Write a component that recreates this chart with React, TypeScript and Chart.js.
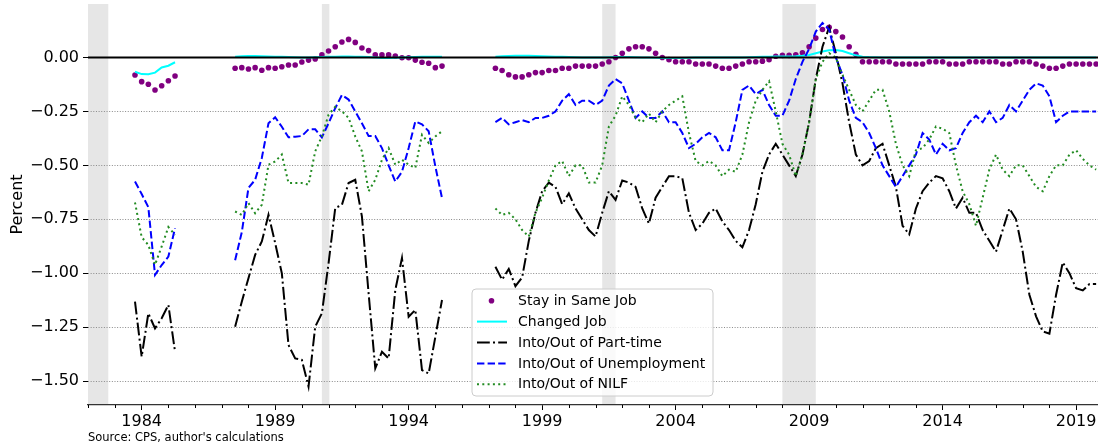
import React, { useEffect, useRef } from 'react';
import { Chart, registerables } from 'chart.js';

Chart.register(...registerables);

// ---- Data (quarterly, three blocks separated by gaps) ----
const blockStartQuarters = ['1983Q4', '1987Q3', '1997Q2'];

const stayBlock1 = [-0.081, -0.112, -0.124, -0.151, -0.131, -0.108, -0.086];
const stayBlock2 = [-0.050, -0.047, -0.053, -0.047, -0.059, -0.047, -0.050, -0.043, -0.035, -0.035, -0.021, -0.012, -0.007, 0.012, 0.030, 0.050, 0.072, 0.084, 0.070, 0.044, 0.032, 0.012, 0.012, 0.012, 0.007, -0.001, -0.001, -0.012, -0.022, -0.027, -0.047, -0.040];
const stayBlock3 = [-0.05, -0.06, -0.08, -0.09, -0.09, -0.08, -0.07, -0.07, -0.06, -0.06, -0.05, -0.05, -0.04, -0.04, -0.04, -0.04, -0.03, -0.02, 0.0, 0.02, 0.04, 0.05, 0.05, 0.04, 0.02, 0.0, -0.01, -0.02, -0.02, -0.02, -0.03, -0.03, -0.03, -0.04, -0.05, -0.05, -0.04, -0.03, -0.02, -0.02,
  -0.017, -0.01, 0.006, 0.01, 0.01, 0.013, 0.022, 0.05, 0.09, 0.13, 0.14, 0.12, 0.095, 0.05, 0.015, -0.02, -0.02, -0.02,
  -0.02, -0.02, -0.03, -0.03, -0.03, -0.03, -0.03, -0.02, -0.02, -0.02, -0.03, -0.03, -0.03, -0.02, -0.02, -0.02, -0.02, -0.02, -0.03, -0.03, -0.02, -0.02, -0.02, -0.03, -0.04, -0.05, -0.05, -0.04, -0.03, -0.03, -0.03, -0.03, -0.03];

const changedBlock1 = [-0.066, -0.077, -0.078, -0.070, -0.046, -0.038, -0.022];
const changedBlock2 = [0.004, 0.006, 0.007, 0.007, 0.006, 0.005, 0.004, 0.003, 0.002, 0.001, 0.0, 0.0, 0.001, 0.002, 0.003, 0.004, 0.005, 0.005, 0.004, 0.003, 0.002, 0.0, -0.002, -0.002, -0.001, 0.0, 0.001, 0.002, 0.003, 0.004, 0.004, 0.003];
const changedBlock3 = [0.004, 0.006, 0.007, 0.008, 0.008, 0.008, 0.007, 0.006, 0.005, 0.004, 0.003, 0.002, 0.001, 0.0, 0.0, 0.0, 0.0, 0.001, 0.002, 0.002, 0.002,
  0.001, 0.0, 0.0, -0.001, -0.002, -0.002, -0.002, -0.002, -0.001, 0.0,
  0.0, 0.0, 0.0, 0.0, 0.0, 0.0, 0.0, 0.001, 0.002, 0.003,
  0.004, 0.005, 0.005, 0.005, 0.006, 0.008, 0.012, 0.02, 0.028, 0.034,
  0.035, 0.03, 0.02, 0.01, 0.004, 0.002, 0.001, 0.0, 0.0, 0.0,
  0.0, 0.0, 0.0, 0.0, 0.0, 0.0, 0.0, 0.0, 0.0, 0.0,
  0.0, 0.0, 0.0, 0.0, 0.0, 0.0, 0.0, 0.0, 0.0, 0.0,
  0.0, 0.0, 0.0, 0.0, 0.0, 0.0, 0.0, 0.0, 0.0, 0.0];

const partBlock1 = [-1.132, -1.387, -1.186, -1.256, -1.209, -1.147, -1.364];
const partBlock2 = [-1.248, -1.132, -1.023, -0.915, -0.853, -0.729, -0.86, -1.0, -1.333, -1.395, -1.402, -1.526, -1.248, -1.186, -0.954, -0.698, -0.683, -0.582, -0.567, -0.737, -1.093, -1.441, -1.364, -1.395, -1.078, -0.93, -1.202, -1.17, -1.449, -1.465, -1.295, -1.124];
const partBlock3 = [-0.97, -1.03, -0.98, -1.06, -1.02, -0.85, -0.72, -0.62, -0.58, -0.6,
  -0.68, -0.63, -0.7, -0.75, -0.8, -0.83, -0.72, -0.62, -0.66, -0.57,
  -0.58, -0.6, -0.7, -0.77, -0.65, -0.6, -0.55, -0.55, -0.56, -0.72,
  -0.8, -0.77, -0.72, -0.7, -0.76, -0.8, -0.85, -0.88, -0.8, -0.68,
  -0.53, -0.45, -0.4, -0.45, -0.5, -0.55, -0.45, -0.3, -0.1, 0.05,
  0.14, 0.02, -0.12, -0.3, -0.45, -0.5, -0.48, -0.42, -0.4, -0.5,
  -0.6, -0.78, -0.82, -0.7, -0.62, -0.58, -0.55, -0.56, -0.62, -0.7,
  -0.65, -0.72, -0.72, -0.8, -0.85, -0.9, -0.8, -0.7, -0.75, -0.9,
  -1.1, -1.2, -1.27, -1.28, -1.1, -0.95, -1.0, -1.07, -1.08, -1.05,
  -1.05];

const unempBlock1 = [-0.575, -0.633, -0.694, -1.008, -0.962, -0.923, -0.791];
const unempBlock2 = [-0.94, -0.81, -0.605, -0.567, -0.466, -0.305, -0.277, -0.321, -0.37, -0.367, -0.364, -0.333, -0.333, -0.37, -0.305, -0.235, -0.174, -0.195, -0.25, -0.305, -0.364, -0.364, -0.42, -0.5, -0.575, -0.53, -0.42, -0.296, -0.31, -0.342, -0.505, -0.652];
const unempBlock3 = [-0.3, -0.28, -0.31, -0.3, -0.29, -0.3, -0.28, -0.28, -0.27, -0.25,
  -0.2, -0.17, -0.22, -0.2, -0.2, -0.22, -0.2, -0.13, -0.1, -0.12,
  -0.2, -0.28, -0.25, -0.28, -0.28, -0.25, -0.3, -0.3, -0.35, -0.42,
  -0.4, -0.37, -0.35, -0.37, -0.43, -0.43, -0.3, -0.15, -0.13, -0.17,
  -0.15, -0.22, -0.27, -0.27, -0.2, -0.1, -0.02, 0.04, 0.12, 0.16,
  0.13, 0.0, -0.08, -0.2, -0.28, -0.3, -0.35, -0.42, -0.5, -0.55,
  -0.6, -0.55, -0.5, -0.45, -0.35, -0.38, -0.45, -0.4, -0.43, -0.42,
  -0.35, -0.3, -0.27, -0.3, -0.25, -0.3, -0.28, -0.22, -0.25, -0.2,
  -0.15, -0.12, -0.13, -0.18, -0.3, -0.27, -0.25, -0.25, -0.25, -0.25,
  -0.25];

const nilfBlock1 = [-0.672, -0.833, -0.869, -0.961, -0.876, -0.786, -0.822];
const nilfBlock2 = [-0.714, -0.73, -0.675, -0.722, -0.683, -0.497, -0.482, -0.45, -0.582, -0.582, -0.582, -0.59, -0.435, -0.366, -0.265, -0.229, -0.249, -0.28, -0.366, -0.435, -0.62, -0.567, -0.474, -0.42, -0.497, -0.474, -0.497, -0.512, -0.358, -0.396, -0.366, -0.342];
const nilfBlock3 = [-0.7, -0.73, -0.72, -0.75, -0.8, -0.83, -0.72, -0.65, -0.57, -0.5,
  -0.48, -0.55, -0.5, -0.5, -0.58, -0.58, -0.5, -0.32, -0.27, -0.18,
  -0.22, -0.28, -0.3, -0.26, -0.3, -0.25, -0.22, -0.2, -0.18, -0.35,
  -0.48, -0.5, -0.48, -0.5, -0.55, -0.52, -0.53, -0.45, -0.3, -0.2,
  -0.15, -0.11, -0.25, -0.4, -0.45, -0.55, -0.45, -0.3, -0.1, -0.02,
  0.02, 0.0, -0.08, -0.15, -0.22, -0.25, -0.2, -0.15, -0.15, -0.25,
  -0.4, -0.5, -0.55, -0.43, -0.42, -0.38, -0.32, -0.33, -0.35, -0.5,
  -0.62, -0.68, -0.78, -0.65, -0.52, -0.45, -0.52, -0.55, -0.5, -0.5,
  -0.55, -0.6, -0.62, -0.55, -0.5, -0.5, -0.45, -0.43, -0.47, -0.5,
  -0.52];

// recessions (start, end) in years
const recessionStarts = [1981.5, 1990.75, 2001.25, 2008.0];
const recessionEnds = [1982.75, 1991.03, 2001.75, 2009.25];

const xTickYears = [1984, 1989, 1994, 1999, 2004, 2009, 2014, 2019];
const xTickLabels = ['1984', '1989', '1994', '1999', '2004', '2009', '2014', '2019'];
const yTickValues = [-1.5, -1.25, -1.0, -0.75, -0.5, -0.25, 0.0];

const seriesNames = ['Stay in Same Job', 'Changed Job', 'Into/Out of Part-time', 'Into/Out of Unemployment', 'Into/Out of NILF'];
const seriesColors = ['#800080', '#00ffff', '#000000', '#0000ff', '#228b22'];
const seriesDashes: number[][] = [[], [], [12.8, 3.2, 2, 3.2], [7.4, 3.2], [2, 3.3]];

const FONT = "'DejaVu Sans', sans-serif";

function quarterToYear(q: string): number {
  const [y, qq] = q.split('Q');
  return Number(y) + (Number(qq) - 1) / 4;
}

function buildPoints(blocks: number[][]) {
  const pts: { x: number; y: number | null }[] = [];
  blocks.forEach((vals, b) => {
    const start = quarterToYear(blockStartQuarters[b]);
    vals.forEach((v, i) => pts.push({ x: start + i / 4, y: v }));
    if (b < blocks.length - 1) {
      pts.push({ x: start + vals.length / 4, y: null });
    }
  });
  return pts;
}

const fmt = (v: number) => {
  const s = Math.abs(v).toFixed(2);
  return v < -1e-9 ? '\u2212' + s : s;
};

export default function App() {
  const ref = useRef<HTMLCanvasElement | null>(null);

  useEffect(() => {
    if (!ref.current) return;
    const stay = buildPoints([stayBlock1, stayBlock2, stayBlock3]);
    const changed = buildPoints([changedBlock1, changedBlock2, changedBlock3]);
    const part = buildPoints([partBlock1, partBlock2, partBlock3]);
    const unemp = buildPoints([unempBlock1, unempBlock2, unempBlock3]);
    const nilf = buildPoints([nilfBlock1, nilfBlock2, nilfBlock3]);

    const deco = {
      id: 'deco',
      beforeDraw(chart: any) {
        const { ctx, chartArea, scales } = chart;
        ctx.save();
        ctx.fillStyle = '#e6e6e6';
        recessionStarts.forEach((s, i) => {
          const x1 = Math.max(chartArea.left, scales.x.getPixelForValue(s));
          const x2 = Math.min(chartArea.right, scales.x.getPixelForValue(recessionEnds[i]));
          if (x2 > x1) ctx.fillRect(x1, chartArea.top, x2 - x1, chartArea.bottom - chartArea.top);
        });
        ctx.restore();
      },
      afterDatasetsDraw(chart: any) {
        const { ctx, chartArea, scales } = chart;
        const y0 = scales.y.getPixelForValue(0);
        ctx.save();
        ctx.strokeStyle = '#000';
        ctx.lineWidth = 2;
        ctx.beginPath();
        ctx.moveTo(chartArea.left, y0);
        ctx.lineTo(chartArea.right, y0);
        ctx.stroke();
        ctx.restore();
      },
      afterDraw(chart: any) {
        const { ctx, chartArea, scales } = chart;
        ctx.save();
        // minor year ticks
        ctx.strokeStyle = '#000';
        ctx.lineWidth = 1;
        for (let yr = 1982; yr <= 2019; yr++) {
          if (xTickYears.includes(yr)) continue;
          const x = Math.round(scales.x.getPixelForValue(yr)) + 0.5;
          if (x < chartArea.left || x > chartArea.right) continue;
          ctx.beginPath();
          ctx.moveTo(x, chartArea.bottom);
          ctx.lineTo(x, chartArea.bottom + 3);
          ctx.stroke();
        }
        // y-axis title
        ctx.fillStyle = '#000';
        ctx.font = `16px ${FONT}`;
        ctx.textAlign = 'center';
        ctx.textBaseline = 'middle';
        ctx.translate(18, (chartArea.top + chartArea.bottom) / 2);
        ctx.rotate(-Math.PI / 2);
        ctx.fillText('Percent', 0, 0);
        ctx.setTransform(1, 0, 0, 1, 0, 0);
        // source note
        ctx.font = `11.5px ${FONT}`;
        ctx.textAlign = 'left';
        ctx.textBaseline = 'alphabetic';
        ctx.fillText("Source: CPS, author's calculations", chartArea.left, 441);
        // legend
        const lx = 472, ly = 289, lw = 241, lh = 107;
        ctx.beginPath();
        const r = 4;
        ctx.moveTo(lx + r, ly);
        ctx.lineTo(lx + lw - r, ly);
        ctx.quadraticCurveTo(lx + lw, ly, lx + lw, ly + r);
        ctx.lineTo(lx + lw, ly + lh - r);
        ctx.quadraticCurveTo(lx + lw, ly + lh, lx + lw - r, ly + lh);
        ctx.lineTo(lx + r, ly + lh);
        ctx.quadraticCurveTo(lx, ly + lh, lx, ly + lh - r);
        ctx.lineTo(lx, ly + r);
        ctx.quadraticCurveTo(lx, ly, lx + r, ly);
        ctx.closePath();
        ctx.fillStyle = 'rgba(255,255,255,0.8)';
        ctx.fill();
        ctx.strokeStyle = '#cccccc';
        ctx.lineWidth = 1;
        ctx.stroke();
        ctx.font = `14px ${FONT}`;
        ctx.textBaseline = 'middle';
        seriesNames.forEach((name, i) => {
          const cy = 300.7 + i * 20.9;
          if (i === 0) {
            ctx.fillStyle = seriesColors[0];
            ctx.beginPath();
            ctx.arc(491.5, cy, 2.8, 0, Math.PI * 2);
            ctx.fill();
          } else {
            ctx.strokeStyle = seriesColors[i];
            ctx.lineWidth = 2;
            ctx.setLineDash(seriesDashes[i]);
            ctx.beginPath();
            ctx.moveTo(477, cy);
            ctx.lineTo(507, cy);
            ctx.stroke();
            ctx.setLineDash([]);
          }
          ctx.fillStyle = '#000';
          ctx.fillText(name, 518, cy + 0.5);
        });
        ctx.restore();
      },
    };

    const chart = new Chart(ref.current, {
      type: 'line',
      data: {
        datasets: [
          { label: seriesNames[0], data: stay, showLine: false, pointRadius: 2.8, pointBorderWidth: 0, pointBackgroundColor: seriesColors[0], borderColor: seriesColors[0], order: 4 },
          { label: seriesNames[1], data: changed, borderColor: seriesColors[1], borderWidth: 2, pointRadius: 0, order: 3 },
          { label: seriesNames[2], data: part, borderColor: seriesColors[2], borderWidth: 2, borderDash: seriesDashes[2], pointRadius: 0, order: 2 },
          { label: seriesNames[3], data: unemp, borderColor: seriesColors[3], borderWidth: 2, borderDash: seriesDashes[3], pointRadius: 0, order: 1 },
          { label: seriesNames[4], data: nilf, borderColor: seriesColors[4], borderWidth: 2, borderDash: seriesDashes[4], pointRadius: 0, order: 0 },
        ] as any,
      },
      options: {
        animation: false,
        responsive: false,
        maintainAspectRatio: false,
        devicePixelRatio: 1,
        spanGaps: false,
        layout: { autoPadding: false, padding: { left: 0, right: 0, top: 4, bottom: 0 } },
        plugins: { legend: { display: false }, tooltip: { enabled: false }, title: { display: false } },
        elements: { line: { tension: 0, borderCapStyle: 'butt' } },
        scales: {
          x: {
            type: 'linear',
            min: 1981.99,
            max: 2019.82,
            afterBuildTicks: (s: any) => { s.ticks = xTickYears.map((v) => ({ value: v })); },
            afterFit: (s: any) => { s.height = 40; s.paddingLeft = 0; s.paddingRight = 0; s.paddingTop = 0; s.paddingBottom = 0; },
            ticks: {
              callback: (_v: any, i: number) => xTickLabels[i],
              font: { family: FONT, size: 16 },
              color: '#000',
              maxRotation: 0,
              autoSkip: false,
              padding: 2,
            },
            grid: { display: true, drawOnChartArea: false, drawTicks: true, tickLength: 5, tickColor: '#000', tickWidth: 1 },
            border: { display: true, color: '#333', width: 1.2 },
          },
          y: {
            type: 'linear',
            min: -1.611,
            max: 0.248,
            afterBuildTicks: (s: any) => { s.ticks = yTickValues.map((v) => ({ value: v })); },
            afterFit: (s: any) => { s.width = 88; s.paddingLeft = 0; s.paddingRight = 0; s.paddingTop = 0; s.paddingBottom = 0; },
            ticks: {
              callback: (v: any) => fmt(Number(v)),
              font: { family: FONT, size: 16 },
              color: '#000',
              padding: 4,
            },
            grid: { display: true, drawOnChartArea: true, color: '#8a8a8a', lineWidth: 1, drawTicks: true, tickLength: 5, tickColor: '#000', tickWidth: 1 },
            border: { display: false, dash: [1, 1.65] },
          },
        },
      } as any,
      plugins: [deco],
    });
    return () => chart.destroy();
  }, []);

  return (
    <div style={{ position: 'absolute', left: 0, top: 0, width: 1098, height: 445 }}>
      <canvas ref={ref} width={1098} height={445} style={{ display: 'block', width: 1098, height: 445 }} />
    </div>
  );
}
